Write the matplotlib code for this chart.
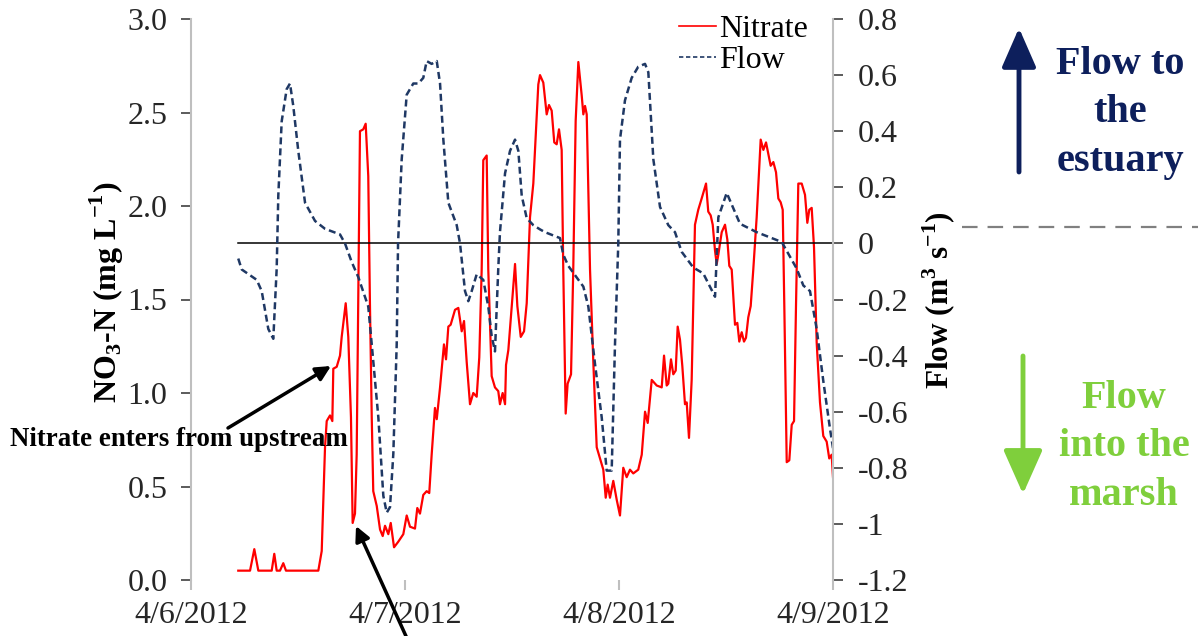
import numpy as np
import pandas as pd
import matplotlib
matplotlib.use('Agg')
import matplotlib.pyplot as plt
import matplotlib.dates as mdates
from matplotlib.lines import Line2D

# hours after 4/6/2012 00:00
nitrate_hours = [5.30, 6.62, 7.10, 7.55, 9.05, 9.34, 9.61, 9.98, 10.35, 10.65,
                 14.28, 14.66, 15.03, 15.22, 15.59, 15.85, 15.96, 16.34, 16.71, 16.90,
                 17.35, 17.64, 17.94, 18.13, 18.39, 18.58, 18.95, 19.32, 19.59, 19.88,
                 20.07, 20.27, 20.44, 20.83, 21.20, 21.50, 21.76, 22.13, 22.40, 22.77,
                 23.25, 23.81, 24.19, 24.56, 25.12, 25.38, 25.68, 26.05, 26.43, 26.72,
                 26.99, 27.36, 27.56, 27.93, 28.37, 28.60, 28.86, 29.12, 29.61, 29.98,
                 30.36, 30.62, 30.92, 31.29, 31.66, 32.04, 32.33, 32.60, 32.78, 33.16,
                 33.34, 33.72, 34.09, 34.46, 34.65, 34.95, 35.22, 35.33, 35.59, 35.97,
                 36.34, 36.60, 36.98, 37.35, 37.65, 38.02, 38.39, 38.95, 39.14, 39.51,
                 39.89, 40.15, 40.45, 40.74, 41.01, 41.27, 41.57, 41.75, 42.02, 42.24,
                 42.62, 42.87, 43.14, 43.44, 43.82, 44.00, 44.19, 44.38, 44.75, 45.12,
                 45.50, 45.87, 46.24, 46.51, 46.73, 46.99, 47.36, 47.74, 48.11, 48.48,
                 48.86, 49.23, 49.60, 50.16, 50.55, 50.92, 51.22, 51.67, 52.23, 52.79,
                 53.05, 53.35, 53.53, 53.83, 54.09, 54.36, 54.58, 54.84, 55.10, 55.40,
                 55.59, 55.85, 56.15, 56.52, 56.89, 57.27, 57.76, 58.01, 58.28, 58.51,
                 58.77, 58.96, 59.14, 59.52, 59.89, 60.15, 60.37, 60.64, 61.01, 61.27,
                 61.49, 61.76, 62.02, 62.24, 62.50, 62.77, 63.06, 63.44, 63.89, 64.19,
                 64.49, 64.74, 65.01, 65.31, 65.61, 65.87, 66.13, 66.36, 66.54, 66.81,
                 67.10, 67.37, 67.63, 67.85, 68.11, 68.49, 68.86, 69.12, 69.34, 69.61,
                 69.87, 70.17, 70.54, 70.91, 71.29, 71.58, 71.85, 72.00]
nitrate = [0.05, 0.05, 0.165, 0.05, 0.05, 0.14, 0.05, 0.05, 0.09, 0.05,
           0.05, 0.155, 0.71, 0.85, 0.88, 0.85, 1.13, 1.14, 1.20, 1.30,
           1.48, 1.30, 0.87, 0.305, 0.355, 0.67, 2.40, 2.41, 2.44, 2.16,
           1.47, 0.87, 0.475, 0.396, 0.27, 0.235, 0.29, 0.245, 0.305, 0.175,
           0.205, 0.245, 0.345, 0.285, 0.275, 0.385, 0.355, 0.455, 0.475, 0.465,
           0.67, 0.92, 0.86, 1.03, 1.26, 1.18, 1.355, 1.365, 1.445, 1.455,
           1.33, 1.385, 1.165, 0.94, 1.0, 0.98, 1.19, 1.66, 2.245, 2.27,
           1.66, 1.09, 1.03, 1.01, 0.94, 1.0, 0.94, 1.15, 1.23, 1.465,
           1.69, 1.465, 1.30, 1.33, 1.48, 1.94, 2.12, 2.65, 2.70, 2.66,
           2.49, 2.54, 2.51, 2.34, 2.33, 2.41, 2.30, 1.66, 0.89, 1.05,
           1.10, 1.66, 2.455, 2.77, 2.59, 2.49, 2.535, 2.49, 1.66, 1.165,
           0.71, 0.65, 0.59, 0.44, 0.51, 0.44, 0.53, 0.43, 0.345, 0.60,
           0.55, 0.59, 0.57, 0.59, 0.67, 0.90, 0.84, 1.07, 1.04, 1.03,
           1.20, 1.04, 1.05, 1.18, 1.10, 1.12, 1.355, 1.285, 1.145, 0.94,
           0.95, 0.76, 1.07, 1.90, 1.98, 2.04, 2.12, 1.97, 1.95, 1.90,
           1.76, 1.69, 1.74, 1.86, 1.90, 1.82, 1.68, 1.66, 1.365, 1.375,
           1.275, 1.325, 1.275, 1.295, 1.405, 1.465, 1.66, 1.94, 2.355, 2.30,
           2.34, 2.28, 2.215, 2.235, 2.18, 2.04, 2.02, 1.98, 1.465, 0.63,
           0.64, 0.83, 0.85, 1.465, 2.12, 2.12, 2.06, 1.91, 1.98, 1.99,
           1.78, 1.27, 0.95, 0.77, 0.74, 0.65, 0.67, 0.55]

flow_hours = [5.30, 5.69, 7.37, 7.93, 8.67, 9.23, 9.61, 9.79, 10.17, 10.73,
              11.10, 11.47, 12.03, 12.79, 13.91, 15.03, 16.71, 17.27, 18.02, 18.76,
              19.88, 20.27, 21.01, 21.57, 21.95, 22.32, 22.69, 23.07, 23.22, 23.63,
              24.19, 24.93, 25.49, 26.05, 26.43, 26.99, 27.56, 27.93, 28.30, 28.86,
              29.80, 30.17, 30.73, 31.10, 31.48, 32.04, 32.78, 33.34, 33.72, 34.09,
              34.46, 34.65, 35.22, 35.78, 36.34, 36.71, 37.09, 37.65, 38.39, 39.14,
              39.70, 41.38, 41.75, 42.31, 44.00, 44.56, 45.31, 46.06, 46.62, 47.18,
              47.55, 47.92, 48.11, 48.67, 49.42, 50.16, 50.92, 51.29, 51.85, 52.60,
              53.53, 54.28, 55.03, 56.33, 57.45, 58.77, 59.14, 60.08, 61.57, 63.44,
              66.25, 67.93, 68.67, 69.42, 70.17, 70.91, 71.66, 72.00]
flow = [-0.054, -0.093, -0.13, -0.17, -0.305, -0.34, -0.09, 0.17, 0.435, 0.55,
        0.57, 0.49, 0.33, 0.145, 0.08, 0.052, 0.032, 0.0, -0.066, -0.12,
        -0.225, -0.36, -0.62, -0.90, -0.96, -0.94, -0.75, -0.36, 0.0, 0.30,
        0.53, 0.57, 0.57, 0.59, 0.65, 0.64, 0.65, 0.57, 0.37, 0.145,
        0.065, 0.0, -0.17, -0.206, -0.17, -0.11, -0.13, -0.225, -0.33, -0.385,
        -0.09, 0.04, 0.25, 0.33, 0.37, 0.33, 0.17, 0.09, 0.065, 0.05,
        0.04, 0.019, -0.04, -0.08, -0.154, -0.225, -0.43, -0.62, -0.81, -0.81,
        -0.36, 0.0, 0.37, 0.51, 0.59, 0.63, 0.64, 0.61, 0.30, 0.13,
        0.065, 0.04, -0.03, -0.086, -0.107, -0.19, 0.093, 0.18, 0.07, 0.04,
        0.005, -0.09, -0.15, -0.17, -0.305, -0.49, -0.66, -0.73]

date_ticks = ['2012-04-06', '2012-04-07', '2012-04-08', '2012-04-09']
left_ticks = [0.0, 0.5, 1.0, 1.5, 2.0, 2.5, 3.0]
right_ticks = [-1.2, -1.0, -0.8, -0.6, -0.4, -0.2, 0.0, 0.2, 0.4, 0.6, 0.8]

plt.rcParams['font.family'] = ['Liberation Serif', 'DejaVu Serif']
plt.rcParams['mathtext.fontset'] = 'custom'
plt.rcParams['mathtext.rm'] = 'Liberation Serif'
plt.rcParams['mathtext.bf'] = 'Liberation Serif:bold'

W, H = 1198, 636
start = pd.Timestamp('2012-04-06')
t_nitrate = start + pd.to_timedelta(nitrate_hours, unit='h')
t_flow = start + pd.to_timedelta(flow_hours, unit='h')
t_ticks = pd.to_datetime(date_ticks)


def fx(px):
    return px / W


def fy(py):
    return 1 - py / H


fig = plt.figure(figsize=(W / 100, H / 100), dpi=100)
ax = fig.add_axes([fx(191), fy(580), fx(833) - fx(191), fy(19) - fy(580)])
ax2 = ax.twinx()

ax.plot(t_nitrate, nitrate, color='#ff0000', lw=1.6, label='Nitrate')
ax2.plot(t_flow, flow, color='#1f3864', lw=1.8, ls=(0, (2.8, 1.6)), label='Flow')
ax2.plot([t_flow[0], t_ticks[-1]], [0, 0], color='black', lw=1.1, zorder=1)

ax.set_xlim(t_ticks[0], t_ticks[-1])
ax.set_ylim(0, 3)
ax2.set_ylim(-1.2, 0.8)

ax.set_yticks(left_ticks)
ax.set_yticklabels(['%.1f' % v for v in left_ticks])
ax2.set_yticks(right_ticks)
ax2.set_yticklabels(['%g' % round(v, 1) if abs(v) > 1e-9 else '0' for v in right_ticks])

ax.set_xticks(t_ticks)
ax.set_xticklabels(['%d/%d/%d' % (d.month, d.day, d.year) for d in t_ticks])

for a in (ax, ax2):
    for s in a.spines.values():
        s.set_visible(False)
ax.spines['left'].set_visible(True)
ax.spines['left'].set_color('#bfbfbf')
ax.spines['left'].set_linewidth(1.5)
ax2.spines['right'].set_visible(True)
ax2.spines['right'].set_color('#bfbfbf')
ax2.spines['right'].set_linewidth(1.5)

ax.tick_params(axis='y', direction='out', length=7, width=1.2, color='#404040',
               labelsize=23, pad=10, labelcolor='#262626')
ax2.tick_params(axis='y', direction='out', length=7, width=1.2, color='#404040',
                labelsize=23, pad=11, labelcolor='#262626')
ax.tick_params(axis='x', direction='out', length=7, width=1.5, color='#bfbfbf',
               labelsize=23, pad=8, labelcolor='#262626')

ax.set_ylabel(r'NO$_{\mathbf{3}}$-N (mg L$^{\mathbf{-1}}$)', fontsize=23, fontweight='bold')
ax.yaxis.set_label_coords((126 - 191) / 642, (580 - 292) / 561)
ax2.set_ylabel(r'Flow (m$^{\mathbf{3}}$ s$^{\mathbf{-1}}$)', fontsize=22.5, fontweight='bold',
               rotation=90)
ax2.yaxis.set_label_coords((921 - 191) / 642, (580 - 300) / 561)

handles = [Line2D([], [], color='#ff0000', lw=1.2),
           Line2D([], [], color='#1f3864', lw=1.2, ls=(0, (2.6, 1.6)))]
fig.legend(handles, ['Nitrate', 'Flow'], loc='upper left',
           bbox_to_anchor=(fx(679), fy(15)), frameon=False, fontsize=23,
           handlelength=1.15, handletextpad=0.1, labelspacing=0.05,
           borderpad=0, borderaxespad=0)

# annotations
fig.text(fx(10), fy(440), 'Nitrate enters from upstream', fontsize=19.4,
         fontweight='bold', ha='left', va='center')
ax.annotate('', xy=(fx(331), fy(366)), xycoords='figure fraction',
            xytext=(fx(228), fy(428)), textcoords='figure fraction',
            arrowprops=dict(arrowstyle='-|>', lw=2.5, color='black',
                            mutation_scale=22, shrinkA=0, shrinkB=0))
ax.annotate('', xy=(fx(356), fy(526)), xycoords='figure fraction',
            xytext=(fx(410), fy(645)), textcoords='figure fraction',
            arrowprops=dict(arrowstyle='-|>', lw=2.5, color='black',
                            mutation_scale=22, shrinkA=0, shrinkB=0),
            annotation_clip=False)

navy = '#0d1f5c'
green = '#7fcf3c'
ax.annotate('', xy=(fx(1019), fy(28)), xycoords='figure fraction',
            xytext=(fx(1019), fy(172)), textcoords='figure fraction',
            arrowprops=dict(arrowstyle='-|>,head_length=0.8,head_width=0.35',
                            lw=3.5, color=navy, mutation_scale=30,
                            shrinkA=0, shrinkB=0), annotation_clip=False)
ax.annotate('', xy=(fx(1023), fy(494)), xycoords='figure fraction',
            xytext=(fx(1023), fy(356)), textcoords='figure fraction',
            arrowprops=dict(arrowstyle='-|>,head_length=0.9,head_width=0.4',
                            lw=3.5, color=green, mutation_scale=30,
                            shrinkA=0, shrinkB=0), annotation_clip=False)
fig.text(fx(1120), fy(113), 'Flow to\nthe\nestuary', fontsize=29, fontweight='bold',
         color=navy, ha='center', va='center', linespacing=1.4)
fig.text(fx(1124), fy(447), 'Flow\ninto the\nmarsh', fontsize=29, fontweight='bold',
         color=green, ha='center', va='center', linespacing=1.4)
fig.add_artist(Line2D([fx(962), fx(1198)], [fy(227), fy(227)], color='#808080',
                      lw=1.6, ls=(0, (7, 4.5))))

fig.savefig('out.png', dpi=100)
